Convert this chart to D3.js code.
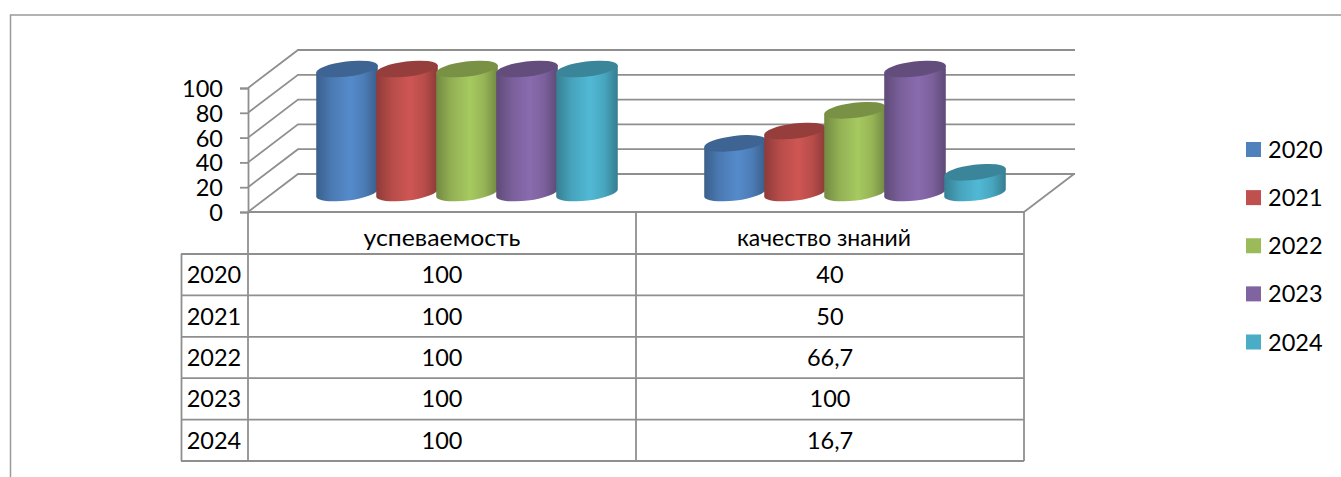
<!DOCTYPE html>
<html>
<head>
<meta charset="utf-8">
<script src="https://cdn.jsdelivr.net/npm/d3@7"></script>
<style>
html, body { margin: 0; padding: 0; background: #fff; overflow: hidden; }
svg text { font-family: Lato, "Open Sans", sans-serif; fill: #000; }
</style>
</head>
<body>
<div id="chart"></div>
<script>
var categories = ["успеваемость", "качество знаний"];
var years = ["2020", "2021", "2022", "2023", "2024"];
var v2020 = [100, 40];
var v2021 = [100, 50];
var v2022 = [100, 66.7];
var v2023 = [100, 100];
var v2024 = [100, 16.7];
var seriesValues = [v2020, v2021, v2022, v2023, v2024];
var colors = ["#4f81bd", "#c0504d", "#9bbb59", "#8064a2", "#4bacc6"];
var yTicks = [0, 20, 40, 60, 80, 100];

var width = 1341, height = 477;
var svg = d3.select("#chart").append("svg")
    .attr("width", width)
    .attr("height", height);

var grey = "#8f8f8f";
var fontSize = "23.5px";
var depthX = 50, depthY = 38;   // shift of the back wall
var x = d3.scaleBand().domain(categories).range([248, 1024]);
var y = d3.scaleLinear().domain([0, 100]).range([212, 88]);
var inner = d3.scaleBand().domain(years).range([0, 300]);
var rowY = d3.scaleBand().domain(years).range([254, 461]);

// outer frame, cut by the edge of the picture
svg.append("path")
    .attr("d", "M10.5," + height + "V15H" + width)
    .attr("fill", "none")
    .attr("stroke", "#9a9a9a")
    .attr("stroke-width", 1.5);

// --- walls and gridlines ---
var grid = svg.append("g")
    .attr("fill", "none")
    .attr("stroke", grey)
    .attr("stroke-width", 1.8);

grid.selectAll(".side")
    .data(yTicks)
    .enter()
    .append("path")
    .attr("class", "side")
    .attr("d", function(d) {
        return "M248," + y(d) + "L" + (248 + depthX) + "," + (y(d) - depthY) + "H" + (1024 + depthX + 1);
    });

grid.append("path")
    .attr("d", "M1024," + y(0) + "L" + (1024 + depthX) + "," + (y(0) - depthY));

// y axis
var axis = svg.append("g")
    .attr("transform", "translate(248,0)")
    .call(d3.axisLeft(y).tickValues(yTicks).tickSize(8).tickPadding(17));
axis.selectAll("path, line").attr("stroke", grey).attr("stroke-width", 1.8);
axis.selectAll("text").style("font-size", fontSize).attr("dy", "0.36em");

// --- cylinders ---
var defs = svg.append("defs");
colors.forEach(function(c, i) {
    var g = defs.append("linearGradient").attr("id", "cyl" + i);
    var base = d3.color(c);
    g.append("stop").attr("offset", "0%").attr("stop-color", base.darker(0.85));
    g.append("stop").attr("offset", "25%").attr("stop-color", base.darker(0.15));
    g.append("stop").attr("offset", "55%").attr("stop-color", base.brighter(0.2));
    g.append("stop").attr("offset", "78%").attr("stop-color", base.darker(0.1));
    g.append("stop").attr("offset", "100%").attr("stop-color", base.darker(0.9));
});

var rx = 31, ry = 7.5, tilt = -7;
var dx = rx * Math.cos(tilt * Math.PI / 180);
var dy = rx * Math.sin(tilt * Math.PI / 180);
var baseY = y(0) - 19;
var groupShift = 25;

function cylinders() {
    var out = [];
    seriesValues.forEach(function(vals, s) {
        vals.forEach(function(v, c) {
            out.push({ s: s, c: c, v: v });
        });
    });
    return out;
}

var cyl = svg.selectAll(".cyl")
    .data(cylinders())
    .enter()
    .append("g")
    .attr("class", "cyl");

function cx(d) {
    return x(categories[d.c]) + (x.bandwidth() - inner.range()[1]) / 2 + groupShift
        + inner(years[d.s]) + inner.bandwidth() / 2;
}
function topY(d) {
    return baseY - (y(0) - y(d.v));
}

cyl.append("path")
    .attr("fill", function(d) { return "url(#cyl" + d.s + ")"; })
    .attr("d", function(d) {
        var c = cx(d), t = topY(d);
        return "M" + (c - dx) + "," + (t - dy)
            + "L" + (c - dx) + "," + (baseY - dy)
            + "A" + rx + "," + ry + "," + tilt + ",0,0," + (c + dx) + "," + (baseY + dy)
            + "L" + (c + dx) + "," + (t + dy)
            + "Z";
    });

cyl.append("ellipse")
    .attr("rx", rx)
    .attr("ry", ry)
    .attr("transform", function(d) {
        return "translate(" + cx(d) + "," + topY(d) + ") rotate(" + tilt + ")";
    })
    .attr("fill", function(d) { return d3.color(colors[d.s]).darker(0.72); });

// --- data table ---
var table = svg.append("g")
    .attr("fill", "none")
    .attr("stroke", grey)
    .attr("stroke-width", 1.8);

// top edge of the table is also the front edge of the floor
table.append("line")
    .attr("x1", 248).attr("x2", 1024)
    .attr("y1", y(0)).attr("y2", y(0));

x.domain().concat(["end"]).forEach(function(c) {
    var px = c === "end" ? 1024 : x(c);
    table.append("line")
        .attr("x1", px).attr("x2", px)
        .attr("y1", y(0)).attr("y2", rowY.range()[1]);
});
table.append("line")
    .attr("x1", 181.5).attr("x2", 181.5)
    .attr("y1", rowY.range()[0]).attr("y2", rowY.range()[1]);

years.concat(["end"]).forEach(function(yr) {
    var py = yr === "end" ? rowY.range()[1] : rowY(yr);
    table.append("line")
        .attr("x1", 181).attr("x2", 1024)
        .attr("y1", py).attr("y2", py);
});

// Lato is wider than the original font in some letters, so the header widths are forced
var catWidths = [157, 174];
var catShift = [0, -6];
svg.selectAll(".catLabel")
    .data(categories)
    .enter()
    .append("text")
    .attr("class", "catLabel")
    .attr("x", function(d, i) { return x(d) + x.bandwidth() / 2 + catShift[i]; })
    .attr("y", 246)
    .attr("text-anchor", "middle")
    .attr("textLength", function(d, i) { return catWidths[i]; })
    .attr("lengthAdjust", "spacingAndGlyphs")
    .style("font-size", "24px")
    .text(function(d) { return d; });

years.forEach(function(yr, s) {
    var ty = rowY(yr) + rowY.bandwidth() / 2 + 8.5;
    svg.append("text")
        .attr("x", 214)
        .attr("y", ty)
        .attr("text-anchor", "middle")
        .style("font-size", fontSize)
        .text(yr);
    categories.forEach(function(cat, c) {
        svg.append("text")
            .attr("x", x(cat) + x.bandwidth() / 2)
            .attr("y", ty)
            .attr("text-anchor", "middle")
            .style("font-size", fontSize)
            .text(String(seriesValues[s][c]).replace(".", ","));
    });
});

// --- legend ---
var legendY = d3.scalePoint().domain(years).range([149.5, 342]);
var legend = svg.selectAll(".legend")
    .data(years)
    .enter()
    .append("g")
    .attr("class", "legend")
    .attr("transform", function(d) { return "translate(1246," + legendY(d) + ")"; });

legend.append("rect")
    .attr("y", -7.5)
    .attr("width", 15)
    .attr("height", 15)
    .attr("fill", function(d, i) { return colors[i]; });

legend.append("text")
    .attr("x", 22)
    .attr("y", 8.5)
    .style("font-size", fontSize)
    .text(function(d) { return d; });
</script>
</body>
</html>
